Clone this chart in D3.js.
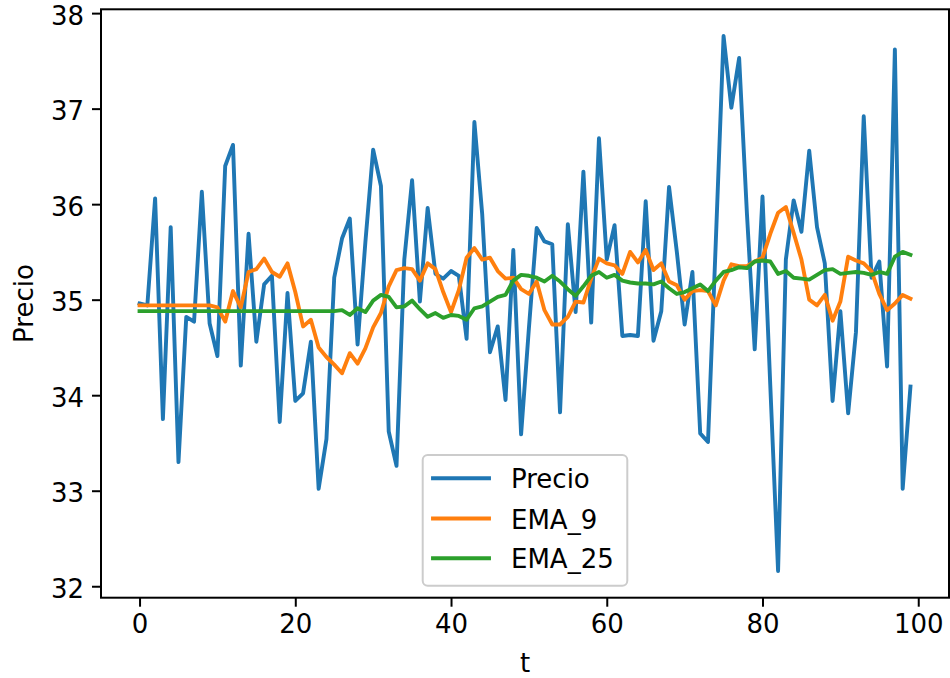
<!DOCTYPE html>
<html>
<head>
<meta charset="utf-8">
<script src="https://cdn.jsdelivr.net/npm/d3@7"></script>
<style>
  html, body { margin: 0; padding: 0; background: #fff; }
  svg { display: block; font-family: "DejaVu Sans", sans-serif; }
</style>
</head>
<body>
<svg id="chart" width="950" height="678"></svg>
<script>
// ---- Data ----
const seriesNames = ["Precio", "EMA_9", "EMA_25"];
const seriesColors = ["#1f77b4", "#ff7f0e", "#2ca02c"];

const precio = [
  34.96, 34.94, 36.06, 33.75, 35.76, 33.30, 34.82, 34.77, 36.13, 34.75,
  34.41, 36.40, 36.62, 34.31, 35.69, 34.56, 35.16, 35.25, 33.72, 35.07,
  33.94, 34.02, 34.56, 33.02, 33.54, 35.23, 35.64, 35.85, 34.53, 35.60,
  36.57, 36.19, 33.62, 33.26, 35.42, 36.25, 34.98, 35.96, 35.27, 35.22,
  35.30, 35.25, 34.59, 36.86, 35.90, 34.45, 34.72, 33.95, 35.52, 33.59,
  34.70, 35.75, 35.61, 35.58, 33.82, 35.79, 34.87, 36.34, 34.76, 36.69,
  35.42, 35.78, 34.62, 34.63, 34.62, 36.03, 34.57, 34.88, 36.18, 35.50,
  34.74, 35.29, 33.60, 33.51, 35.60, 37.76, 37.01, 37.53, 35.90, 34.48,
  36.08, 34.10, 32.16, 35.42, 36.04, 35.71, 36.56, 35.76, 35.38, 33.94,
  34.88, 33.81, 34.66, 36.92, 35.23, 35.40, 34.30, 37.62, 33.02, 34.09
];

const ema9 = [
  34.94, 34.94, 34.94, 34.94, 34.94, 34.94, 34.94, 34.94, 34.94, 34.94,
  34.92, 34.77, 35.09, 34.92, 35.29, 35.32, 35.43, 35.29, 35.24, 35.38,
  35.08, 34.72, 34.79, 34.50, 34.40, 34.32, 34.23, 34.44, 34.33, 34.49,
  34.71, 34.86, 35.14, 35.31, 35.33, 35.32, 35.20, 35.38, 35.32, 35.08,
  34.87, 35.10, 35.44, 35.54, 35.42, 35.44, 35.30, 35.22, 35.23, 35.11,
  35.06, 35.19, 34.89, 34.74, 34.74, 34.82, 34.98, 34.97, 35.22, 35.43,
  35.38, 35.36, 35.27, 35.50, 35.39, 35.52, 35.31, 35.38, 35.19, 35.15,
  35.00, 35.09, 35.10, 35.09, 34.94, 35.20, 35.37, 35.35, 35.35, 35.40,
  35.44, 35.69, 35.91, 35.97, 35.70, 35.42, 35.00, 34.94, 35.05, 34.78,
  34.98, 35.45, 35.41, 35.38, 35.30, 35.06, 34.89, 34.96, 35.05, 35.01
];

const ema25 = [
  34.88, 34.88, 34.88, 34.88, 34.88, 34.88, 34.88, 34.88, 34.88, 34.88,
  34.88, 34.88, 34.88, 34.88, 34.88, 34.88, 34.88, 34.88, 34.88, 34.88,
  34.88, 34.88, 34.88, 34.88, 34.88, 34.88, 34.89, 34.84, 34.91, 34.87,
  34.99, 35.05, 35.03, 34.92, 34.93, 34.99, 34.90, 34.82, 34.86, 34.81,
  34.84, 34.83, 34.79, 34.91, 34.93, 34.98, 35.03, 35.05, 35.20, 35.26,
  35.25, 35.23, 35.19, 35.25, 35.19, 35.11, 35.04, 35.14, 35.25, 35.29,
  35.23, 35.26, 35.20, 35.18, 35.17, 35.17, 35.16, 35.19, 35.12, 35.06,
  35.08, 35.12, 35.16, 35.09, 35.20, 35.29, 35.31, 35.34, 35.33, 35.40,
  35.41, 35.40, 35.27, 35.30, 35.23, 35.22, 35.21, 35.26, 35.31, 35.32,
  35.27, 35.28, 35.29, 35.28, 35.26, 35.29, 35.27, 35.45, 35.50, 35.47
];

const tValues = d3.range(precio.length);
const xTicks = [0, 20, 40, 60, 80, 100];
const yTicks = [32, 33, 34, 35, 36, 37, 38];
const xLabel = "t";
const yLabel = "Precio";

// ---- Layout ----
const plot = { left: 101, right: 949, top: 9.3, bottom: 597.7 };
const fontSize = 26;

const svg = d3.select("#chart");

// matplotlib-style 5% margins
const xExt = d3.extent(tValues);
const xPad = (xExt[1] - xExt[0]) * 0.05;
const allY = precio.concat(ema9, ema25);
const yExt = d3.extent(allY);
const yPad = (yExt[1] - yExt[0]) * 0.05;

const x = d3.scaleLinear().domain([xExt[0] - xPad, xExt[1] + xPad]).range([plot.left, plot.right]);
const y = d3.scaleLinear().domain([yExt[0] - yPad, yExt[1] + yPad]).range([plot.bottom, plot.top]);

// ---- Lines ----
const series = [precio, ema9, ema25];
const line = d3.line().x((d, i) => x(tValues[i])).y(d => y(d));

const lineG = svg.append("g");
series.forEach((s, k) => {
  lineG.append("path")
    .datum(s)
    .attr("fill", "none")
    .attr("stroke", seriesColors[k])
    .attr("stroke-width", 3.9)
    .attr("stroke-linejoin", "round")
    .attr("stroke-linecap", "square")
    .attr("d", line);
});

// ---- Axes ----
const xAxis = d3.axisBottom(x).tickValues(xTicks).tickSize(9).tickPadding(7).tickFormat(d3.format("d"));
const yAxis = d3.axisLeft(y).tickValues(yTicks).tickSize(9).tickPadding(8).tickFormat(d3.format("d"));

const gx = svg.append("g").attr("transform", `translate(0,${plot.bottom})`).call(xAxis);
const gy = svg.append("g").attr("transform", `translate(${plot.left},0)`).call(yAxis);

[gx, gy].forEach(g => {
  g.select(".domain").remove();
  g.selectAll(".tick line").attr("stroke", "#000").attr("stroke-width", 2);
  g.selectAll(".tick text")
    .attr("fill", "#000")
    .style("font-family", "'DejaVu Sans', sans-serif")
    .style("font-size", fontSize + "px");
});
gx.selectAll(".tick text").attr("dy", "0.76em");
gy.selectAll(".tick text").attr("dy", "0.42em");

// Frame (spines)
svg.append("rect")
  .attr("x", plot.left).attr("y", plot.top)
  .attr("width", plot.right - plot.left).attr("height", plot.bottom - plot.top)
  .attr("fill", "none").attr("stroke", "#000").attr("stroke-width", 2);

// Axis labels
svg.append("text")
  .attr("x", (plot.left + plot.right) / 2).attr("y", 672)
  .attr("text-anchor", "middle")
  .style("font-size", fontSize + "px")
  .text(xLabel);

svg.append("text")
  .attr("transform", `translate(33,${(plot.top + plot.bottom) / 2}) rotate(-90)`)
  .attr("text-anchor", "middle")
  .style("font-size", fontSize + "px")
  .text(yLabel);

// ---- Legend ----
const leg = { x: 422.7, y: 455, w: 204.6, h: 130.7 };
const lg = svg.append("g");
lg.append("rect")
  .attr("x", leg.x).attr("y", leg.y).attr("width", leg.w).attr("height", leg.h)
  .attr("rx", 5).attr("ry", 5)
  .attr("fill", "#fff").attr("fill-opacity", 0.8)
  .attr("stroke", "#cccccc").attr("stroke-width", 2);

const rowY = [478.3, 518.5, 558.3];
seriesNames.forEach((name, k) => {
  lg.append("line")
    .attr("x1", 433).attr("x2", 489)
    .attr("y1", rowY[k]).attr("y2", rowY[k])
    .attr("stroke", seriesColors[k]).attr("stroke-width", 3.9)
    .attr("stroke-linecap", "square");
  lg.append("text")
    .attr("x", 511).attr("y", rowY[k] + 10)
    .style("font-size", fontSize + "px")
    .attr("fill", "#000")
    .text(name);
});
</script>
</body>
</html>
